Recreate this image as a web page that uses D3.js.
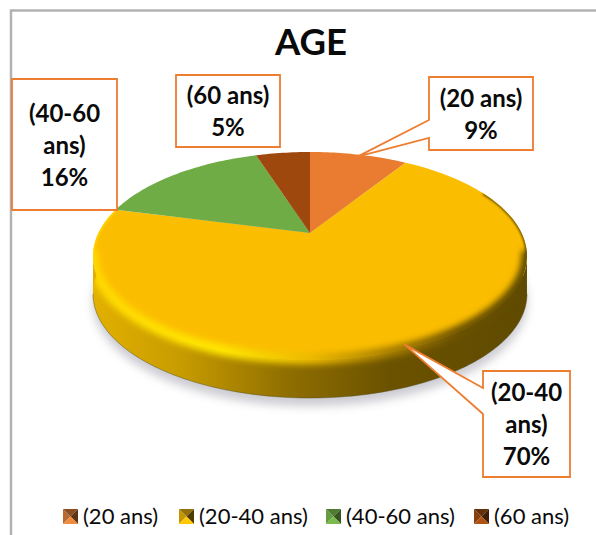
<!DOCTYPE html>
<html>
<head>
<meta charset="utf-8">
<script src="https://cdn.jsdelivr.net/npm/d3@7"></script>
<style>
  html, body { margin: 0; padding: 0; background: #fff; }
  svg { display: block; }
  text { font-family: Lato, "Open Sans", sans-serif; fill: #0a0a0a; }
</style>
</head>
<body>
<svg id="chart" width="596" height="535"></svg>
<script>
// Age distribution of respondents
const categories = ["(20 ans)", "(20-40 ans)", "(40-60 ans)", "(60 ans)"];
const shares = [9, 70, 16, 5];
const labelLines = [["(20 ans)", "9%"], ["(20-40", "ans)", "70%"], ["(40-60", "ans)", "16%"], ["(60 ans)", "5%"]];
const sliceColors = ["#e97c30", "#fbbd00", "#6fac46", "#9e480e"];
const legendFacets = [
  ["#b86a30", "#8a4e22", "#5e3416", "#f08a3c"],
  ["#c49600", "#94720a", "#4d3b00", "#ffc800"],
  ["#669c40", "#4f7c32", "#36551f", "#78ba4c"],
  ["#8a400d", "#64300a", "#401d05", "#ad5412"]
];
const chartTitle = "AGE";

// Callout boxes around the pie; "pointer" gives the side its leader leaves from
const calloutBoxes = [
  { x: 429, y: 77, w: 104, h: 73, pointer: [[429, 120], [429, 138]] },
  { x: 483, y: 371, w: 87, h: 106, pointer: [[483, 388], [483, 414]] },
  { x: 12, y: 79, w: 105, h: 131, pointer: null },
  { x: 176, y: 75, w: 104, h: 72, pointer: null }
];

const svg = d3.select("#chart");
const defs = svg.append("defs");

// Perspective projection of the unit disc onto the page
const apex = { x: 310, y: 233 };
const radiusX = 211.6, radiusY = 98.9, tilt = 0.221, depth = 38;
function project(angle, r = 1, drop = 0) {
  const u = r * Math.sin(angle), v = -r * Math.cos(angle);
  const d = 1 - tilt * v;
  return [apex.x + radiusX * u / d, apex.y + radiusY * v / d + drop];
}
const lineGen = d3.line();
const ringAngles = (a0, a1) => {
  const n = Math.max(2, Math.ceil((a1 - a0) / 0.02));
  return d3.range(n + 1).map(i => a0 + (a1 - a0) * i / n);
};
const slices = d3.pie().sort(null).value(d => d)(shares);

// Gradients and filters for the bevelled disc
const addGradient = (id, stops) => {
  const g = defs.append("linearGradient").attr("id", id)
    .attr("gradientUnits", "userSpaceOnUse")
    .attr("x1", 93).attr("x2", 527).attr("y1", 0).attr("y2", 0);
  stops.forEach(([o, c]) => g.append("stop").attr("offset", o).attr("stop-color", c));
};
addGradient("sideFill", [[0, "#e2b000"], [0.2, "#c89c00"], [0.45, "#8f6e00"], [0.68, "#6b5200"], [1, "#5f4a00"]]);
addGradient("rimFill", [[0, "#ffd800"], [0.3, "#ffe600"], [0.5, "#eab900"], [0.68, "#a87f00"], [0.85, "#6b5200"], [1, "#5f4a00"]]);
defs.append("filter").attr("id", "softShadow").attr("x", "-20%").attr("y", "-20%").attr("width", "140%").attr("height", "140%")
  .append("feGaussianBlur").attr("stdDeviation", 5);
defs.append("filter").attr("id", "softRim").attr("x", "-10%").attr("y", "-20%").attr("width", "120%").attr("height", "140%")
  .append("feGaussianBlur").attr("stdDeviation", 3);
defs.append("filter").attr("id", "softEdge").attr("x", "-10%").attr("y", "-20%").attr("width", "120%").attr("height", "140%")
  .append("feGaussianBlur").attr("stdDeviation", 0.8);

// Chart frame, cut by the window on the right and at the bottom
svg.append("path").attr("d", "M11,535V10.5H596")
  .attr("fill", "none").attr("stroke", "#b2b2b2").attr("stroke-width", 2.5);

svg.append("text").attr("x", 311).attr("y", 55).attr("text-anchor", "middle")
  .attr("font-size", 36.5).attr("font-weight", 700).text(chartTitle);

const fullRing = ringAngles(0, 2 * Math.PI);
const outline = drop => lineGen(fullRing.map(a => project(a, 1, drop))) + "Z";

// Ground shadow
svg.append("path").attr("d", outline(depth + 8))
  .attr("fill", "#b9b9c2").attr("opacity", 0.75).attr("filter", "url(#softShadow)");

// Side wall: the front half of the rim swept downward
const wideAngle = Math.acos(-tilt);
const wallFront = ringAngles(wideAngle, 2 * Math.PI - wideAngle);
svg.append("path")
  .attr("d", lineGen([...wallFront.map(a => project(a)), ...wallFront.slice().reverse().map(a => project(a, 1, depth))]) + "Z")
  .attr("fill", "url(#sideFill)");
svg.append("path").attr("d", lineGen(wallFront.map(a => project(a, 1, depth))))
  .attr("fill", "none").attr("stroke", "#4f4a10").attr("stroke-opacity", 0.45).attr("stroke-width", 1);

// Top face
svg.append("g").selectAll("path").data(slices).join("path")
  .attr("d", s => lineGen([[apex.x, apex.y], ...ringAngles(s.startAngle, s.endAngle).map(a => project(a))]) + "Z")
  .attr("fill", (s, i) => sliceColors[i]);

// Thin shaded edge on the back of the large slice, soft bevel along its front
defs.append("clipPath").attr("id", "topClip").append("path").attr("d", outline(0) + outline(depth));
const bevel = svg.append("g").attr("clip-path", "url(#topClip)");
bevel.append("path")
  .attr("d", lineGen(ringAngles(slices[1].startAngle + 0.55, wideAngle).map(a => project(a))))
  .attr("fill", "none").attr("stroke", "url(#rimFill)").attr("stroke-width", 2.5)
  .attr("filter", "url(#softEdge)");
bevel.append("path")
  .attr("d", lineGen(ringAngles(2 * Math.PI - wideAngle, slices[1].endAngle).map(a => project(a))))
  .attr("fill", "none").attr("stroke", "#ffd800").attr("stroke-width", 3)
  .attr("filter", "url(#softEdge)");
bevel.append("path")
  .attr("d", lineGen(wallFront.map(a => project(a, 1, -1))))
  .attr("fill", "none").attr("stroke", "url(#rimFill)").attr("stroke-width", 11).attr("stroke-linecap", "round")
  .attr("filter", "url(#softRim)");

// Callouts with their leaders
const calloutPath = (box, i) => {
  const mid = (slices[i].startAngle + slices[i].endAngle) / 2;
  if (!box.pointer) return `M${box.x},${box.y}h${box.w}v${box.h}h${-box.w}Z`;
  const tip = project(mid, 0.97);
  const [a, b] = box.pointer;
  return lineGen([[box.x, box.y], [box.x + box.w, box.y], [box.x + box.w, box.y + box.h], [box.x, box.y + box.h], b, tip, a]) + "Z";
};
const callouts = svg.append("g").selectAll("g").data(calloutBoxes).join("g");
callouts.append("path").attr("d", calloutPath)
  .attr("fill", "#fff").attr("stroke", "#ed7d31").attr("stroke-width", 1.8).attr("stroke-linejoin", "miter");
callouts.each(function (box, i) {
  const lines = labelLines[i];
  const step = 32;
  const top = box.y + box.h / 2 - step * (lines.length - 1) / 2 + 9;
  d3.select(this).selectAll("text").data(lines).join("text")
    .attr("x", box.x + box.w / 2).attr("y", (d, j) => top + j * step)
    .attr("text-anchor", "middle").attr("font-size", 24).attr("font-weight", 700).text(d => d);
});

// Legend with pyramid-shaded keys
const legendX = d3.scaleOrdinal().domain(categories).range([63, 179, 326, 474]);
const legend = svg.append("g").selectAll("g").data(categories).join("g")
  .attr("transform", d => `translate(${legendX(d)},509)`);
const keySize = 15;
const facetShapes = [
  [[0, 0], [keySize / 2, keySize / 2], [0, keySize]],
  [[0, 0], [keySize, 0], [keySize / 2, keySize / 2]],
  [[keySize, 0], [keySize, keySize], [keySize / 2, keySize / 2]],
  [[0, keySize], [keySize, keySize], [keySize / 2, keySize / 2]]
];
legend.each(function (d, i) {
  d3.select(this).selectAll("path").data(facetShapes).join("path")
    .attr("d", s => lineGen(s) + "Z").attr("fill", (s, j) => legendFacets[i][j]);
});
legend.append("text").attr("x", 20).attr("y", 15).attr("font-size", 22).text(d => d);
</script>
</body>
</html>
